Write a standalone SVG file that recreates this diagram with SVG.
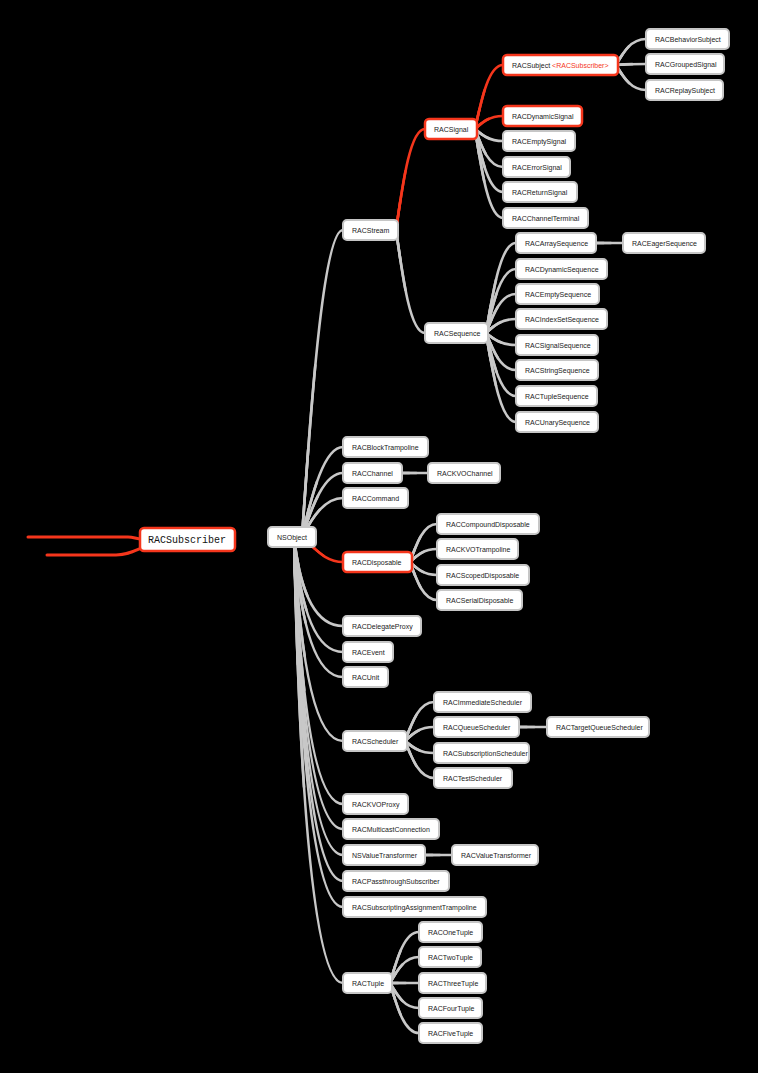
<svg xmlns="http://www.w3.org/2000/svg" width="758" height="1073" viewBox="0 0 758 1073">
<style>
.n rect{fill:#fff;stroke:#c6c6c6;stroke-width:2}
.r rect{fill:#fff;stroke:#f5361c;stroke-width:2.5}
.n text,.r text{font-family:"Liberation Sans",Arial,sans-serif;font-size:7px;fill:#222}
.mono text{font-family:"Liberation Mono","DejaVu Sans Mono",monospace;font-size:10px;fill:#111}
.red{fill:#f5361c}
</style>
<rect width="758" height="1073" fill="#000"/>
<g id="connectors" fill="none" stroke-linecap="round">
<path d="M28,537 L128,537 C134,537 136,539 142,539" stroke="#f5361c" stroke-width="3"/>
<path d="M47,555 L116,555 C128,555 134,551 144,547" stroke="#f5361c" stroke-width="3"/>
<g id="branches" stroke="#c8c8c8" stroke-width="2.6">
<path pathLength="100" d="M302,537 C312.3,383.5 324.5,230 343,230"/>
<path pathLength="100" d="M302,537 C312.3,492 324.5,447 343,447"/>
<path pathLength="100" d="M302,537 C312.3,505 324.5,473 343,473"/>
<path pathLength="100" d="M302,537 C312.3,517.5 324.5,498 343,498"/>
<path pathLength="100" d="M294,537 C298.9,581.5 311.2,626 343,626"/>
<path pathLength="100" d="M294,537 C298.9,594.5 311.2,652 343,652"/>
<path pathLength="100" d="M294,537 C298.9,607 311.2,677 343,677"/>
<path pathLength="100" d="M294,537 C298.9,639 311.2,741 343,741"/>
<path pathLength="100" d="M294,537 C298.9,670.5 311.2,804 343,804"/>
<path pathLength="100" d="M294,537 C298.9,683 311.2,829 343,829"/>
<path pathLength="100" d="M294,537 C298.9,696 311.2,855 343,855"/>
<path pathLength="100" d="M294,537 C298.9,709 311.2,881 343,881"/>
<path pathLength="100" d="M294,537 C298.9,722 311.2,907 343,907"/>
<path pathLength="100" d="M294,537 C298.9,760 311.2,983 343,983"/>
<path pathLength="100" stroke="#f5361c" d="M305,540 C315,548 325,562 343,562"/>
<path pathLength="100" stroke="#f5361c" d="M396,230 C403.3,179.5 410.5,129 425,129"/>
<path pathLength="100" d="M396,230 C403.3,281.5 410.5,333 425,333"/>
<path pathLength="100" stroke="#f5361c" d="M475,129 C482,97 489,65 503,65"/>
<path pathLength="100" stroke="#f5361c" d="M475,129 C482,122.5 489,116 503,116"/>
<path pathLength="100" d="M475,129 C482,135 489,141 503,141"/>
<path pathLength="100" d="M475,129 C482,148 489,167 503,167"/>
<path pathLength="100" d="M475,129 C482,160.5 489,192 503,192"/>
<path pathLength="100" d="M475,129 C482,173.5 489,218 503,218"/>
<path pathLength="100" d="M616,65 C623.5,52 631,39 646,39"/>
<path pathLength="100" d="M616,65 C623.5,64.5 631,64 646,64"/>
<path pathLength="100" d="M616,65 C623.5,77.5 631,90 646,90"/>
<path pathLength="100" d="M486,333 C493.5,288 501,243 516,243"/>
<path pathLength="100" d="M486,333 C493.5,301 501,269 516,269"/>
<path pathLength="100" d="M486,333 C493.5,313.5 501,294 516,294"/>
<path pathLength="100" d="M486,333 C493.5,326 501,319 516,319"/>
<path pathLength="100" d="M486,333 C493.5,339 501,345 516,345"/>
<path pathLength="100" d="M486,333 C493.5,351.5 501,370 516,370"/>
<path pathLength="100" d="M486,333 C493.5,364.5 501,396 516,396"/>
<path pathLength="100" d="M486,333 C493.5,377.5 501,422 516,422"/>
<path pathLength="100" d="M596,243 L623,243"/>
<path pathLength="100" d="M402,473 L428,473"/>
<path pathLength="100" d="M410,562 C416.8,543 423.5,524 437,524"/>
<path pathLength="100" d="M410,562 C416.8,555.5 423.5,549 437,549"/>
<path pathLength="100" d="M410,562 C416.8,568.5 423.5,575 437,575"/>
<path pathLength="100" d="M410,562 C416.8,581 423.5,600 437,600"/>
<path pathLength="100" d="M405,741 C412.3,721.5 419.5,702 434,702"/>
<path pathLength="100" d="M405,741 C412.3,734 419.5,727 434,727"/>
<path pathLength="100" d="M405,741 C412.3,747 419.5,753 434,753"/>
<path pathLength="100" d="M405,741 C412.3,759.5 419.5,778 434,778"/>
<path pathLength="100" d="M519,727 L547,727"/>
<path pathLength="100" d="M425,855 L452,855"/>
<path pathLength="100" d="M390,983 C397.3,957.5 404.5,932 419,932"/>
<path pathLength="100" d="M390,983 C397.3,970 404.5,957 419,957"/>
<path pathLength="100" d="M390,983 C397.3,983 404.5,983 419,983"/>
<path pathLength="100" d="M390,983 C397.3,995.5 404.5,1008 419,1008"/>
<path pathLength="100" d="M390,983 C397.3,1008 404.5,1033 419,1033"/>
</g>
<use href="#branches" stroke-width="3.4" stroke-dasharray="55 200"/>
<use href="#branches" stroke-width="4.4" stroke-dasharray="28 200"/>
</g>
<g id="RACSubscriber" class="r mono"><rect x="140" y="528" width="95" height="23" rx="4"/><text x="148" y="543">RACSubscriber</text></g>
<g id="NSObject" class="n"><rect x="268" y="527" width="48" height="20" rx="4"/><text x="277" y="539.5">NSObject</text></g>
<g id="RACStream" class="n"><rect x="343" y="220" width="55" height="20" rx="4"/><text x="352" y="232.5">RACStream</text></g>
<g id="RACBlockTrampoline" class="n"><rect x="343" y="437" width="85" height="20" rx="4"/><text x="352" y="449.5">RACBlockTrampoline</text></g>
<g id="RACChannel" class="n"><rect x="343" y="463" width="59" height="20" rx="4"/><text x="352" y="475.5">RACChannel</text></g>
<g id="RACCommand" class="n"><rect x="343" y="488" width="65" height="20" rx="4"/><text x="352" y="500.5">RACCommand</text></g>
<g id="RACDisposable" class="r"><rect x="343" y="552" width="69" height="20" rx="4"/><text x="352" y="564.5">RACDisposable</text></g>
<g id="RACDelegateProxy" class="n"><rect x="343" y="616" width="78" height="20" rx="4"/><text x="352" y="628.5">RACDelegateProxy</text></g>
<g id="RACEvent" class="n"><rect x="343" y="642" width="50" height="20" rx="4"/><text x="352" y="654.5">RACEvent</text></g>
<g id="RACUnit" class="n"><rect x="343" y="667" width="45" height="20" rx="4"/><text x="352" y="679.5">RACUnit</text></g>
<g id="RACScheduler" class="n"><rect x="343" y="731" width="64" height="20" rx="4"/><text x="352" y="743.5">RACScheduler</text></g>
<g id="RACKVOProxy" class="n"><rect x="343" y="794" width="65" height="20" rx="4"/><text x="352" y="806.5">RACKVOProxy</text></g>
<g id="RACMulticastConnection" class="n"><rect x="343" y="819" width="96" height="20" rx="4"/><text x="352" y="831.5">RACMulticastConnection</text></g>
<g id="NSValueTransformer" class="n"><rect x="343" y="845" width="82" height="20" rx="4"/><text x="352" y="857.5">NSValueTransformer</text></g>
<g id="RACPassthroughSubscriber" class="n"><rect x="343" y="871" width="106" height="20" rx="4"/><text x="352" y="883.5">RACPassthroughSubscriber</text></g>
<g id="RACSubscriptingAssignmentTrampoline" class="n"><rect x="343" y="897" width="143" height="20" rx="4"/><text x="352" y="909.5">RACSubscriptingAssignmentTrampoline</text></g>
<g id="RACTuple" class="n"><rect x="343" y="973" width="49" height="20" rx="4"/><text x="352" y="985.5">RACTuple</text></g>
<g id="RACSignal" class="r"><rect x="425" y="119" width="52" height="20" rx="4"/><text x="434" y="131.5">RACSignal</text></g>
<g id="RACSequence" class="n"><rect x="425" y="323" width="63" height="20" rx="4"/><text x="434" y="335.5">RACSequence</text></g>
<g id="RACKVOChannel" class="n"><rect x="428" y="463" width="72" height="20" rx="4"/><text x="437" y="475.5">RACKVOChannel</text></g>
<g id="RACCompoundDisposable" class="n"><rect x="437" y="514" width="102" height="20" rx="4"/><text x="446" y="526.5">RACCompoundDisposable</text></g>
<g id="RACKVOTrampoline" class="n"><rect x="437" y="539" width="81" height="20" rx="4"/><text x="446" y="551.5">RACKVOTrampoline</text></g>
<g id="RACScopedDisposable" class="n"><rect x="437" y="565" width="92" height="20" rx="4"/><text x="446" y="577.5">RACScopedDisposable</text></g>
<g id="RACSerialDisposable" class="n"><rect x="437" y="590" width="85" height="20" rx="4"/><text x="446" y="602.5">RACSerialDisposable</text></g>
<g id="RACImmediateScheduler" class="n"><rect x="434" y="692" width="97" height="20" rx="4"/><text x="443" y="704.5">RACImmediateScheduler</text></g>
<g id="RACQueueScheduler" class="n"><rect x="434" y="717" width="85" height="20" rx="4"/><text x="443" y="729.5">RACQueueScheduler</text></g>
<g id="RACSubscriptionScheduler" class="n"><rect x="434" y="743" width="95" height="20" rx="4"/><text x="443" y="755.5">RACSubscriptionScheduler</text></g>
<g id="RACTestScheduler" class="n"><rect x="434" y="768" width="78" height="20" rx="4"/><text x="443" y="780.5">RACTestScheduler</text></g>
<g id="RACTargetQueueScheduler" class="n"><rect x="547" y="717" width="102" height="20" rx="4"/><text x="556" y="729.5">RACTargetQueueScheduler</text></g>
<g id="RACValueTransformer" class="n"><rect x="452" y="845" width="86" height="20" rx="4"/><text x="461" y="857.5">RACValueTransformer</text></g>
<g id="RACOneTuple" class="n"><rect x="419" y="922" width="63" height="20" rx="4"/><text x="428" y="934.5">RACOneTuple</text></g>
<g id="RACTwoTuple" class="n"><rect x="419" y="947" width="62" height="20" rx="4"/><text x="428" y="959.5">RACTwoTuple</text></g>
<g id="RACThreeTuple" class="n"><rect x="419" y="973" width="67" height="20" rx="4"/><text x="428" y="985.5">RACThreeTuple</text></g>
<g id="RACFourTuple" class="n"><rect x="419" y="998" width="63" height="20" rx="4"/><text x="428" y="1010.5">RACFourTuple</text></g>
<g id="RACFiveTuple" class="n"><rect x="419" y="1023" width="63" height="20" rx="4"/><text x="428" y="1035.5">RACFiveTuple</text></g>
<g id="RACSubject" class="r"><rect x="503" y="55" width="115" height="20" rx="4"/><text x="512" y="67.5">RACSubject <tspan class="red">&lt;RACSubscriber&gt;</tspan></text></g>
<g id="RACDynamicSignal" class="r"><rect x="503" y="106" width="79" height="20" rx="4"/><text x="512" y="118.5">RACDynamicSignal</text></g>
<g id="RACEmptySignal" class="n"><rect x="503" y="131" width="72" height="20" rx="4"/><text x="512" y="143.5">RACEmptySignal</text></g>
<g id="RACErrorSignal" class="n"><rect x="503" y="157" width="67" height="20" rx="4"/><text x="512" y="169.5">RACErrorSignal</text></g>
<g id="RACReturnSignal" class="n"><rect x="503" y="182" width="74" height="20" rx="4"/><text x="512" y="194.5">RACReturnSignal</text></g>
<g id="RACChannelTerminal" class="n"><rect x="503" y="208" width="85" height="20" rx="4"/><text x="512" y="220.5">RACChannelTerminal</text></g>
<g id="RACBehaviorSubject" class="n"><rect x="646" y="29" width="83" height="20" rx="4"/><text x="655" y="41.5">RACBehaviorSubject</text></g>
<g id="RACGroupedSignal" class="n"><rect x="646" y="54" width="78" height="20" rx="4"/><text x="655" y="66.5">RACGroupedSignal</text></g>
<g id="RACReplaySubject" class="n"><rect x="646" y="80" width="77" height="20" rx="4"/><text x="655" y="92.5">RACReplaySubject</text></g>
<g id="RACArraySequence" class="n"><rect x="516" y="233" width="80" height="20" rx="4"/><text x="525" y="245.5">RACArraySequence</text></g>
<g id="RACDynamicSequence" class="n"><rect x="516" y="259" width="91" height="20" rx="4"/><text x="525" y="271.5">RACDynamicSequence</text></g>
<g id="RACEmptySequence" class="n"><rect x="516" y="284" width="83" height="20" rx="4"/><text x="525" y="296.5">RACEmptySequence</text></g>
<g id="RACIndexSetSequence" class="n"><rect x="516" y="309" width="91" height="20" rx="4"/><text x="525" y="321.5">RACIndexSetSequence</text></g>
<g id="RACSignalSequence" class="n"><rect x="516" y="335" width="82" height="20" rx="4"/><text x="525" y="347.5">RACSignalSequence</text></g>
<g id="RACStringSequence" class="n"><rect x="516" y="360" width="82" height="20" rx="4"/><text x="525" y="372.5">RACStringSequence</text></g>
<g id="RACTupleSequence" class="n"><rect x="516" y="386" width="81" height="20" rx="4"/><text x="525" y="398.5">RACTupleSequence</text></g>
<g id="RACUnarySequence" class="n"><rect x="516" y="412" width="82" height="20" rx="4"/><text x="525" y="424.5">RACUnarySequence</text></g>
<g id="RACEagerSequence" class="n"><rect x="623" y="233" width="82" height="20" rx="4"/><text x="632" y="245.5">RACEagerSequence</text></g>
</svg>
